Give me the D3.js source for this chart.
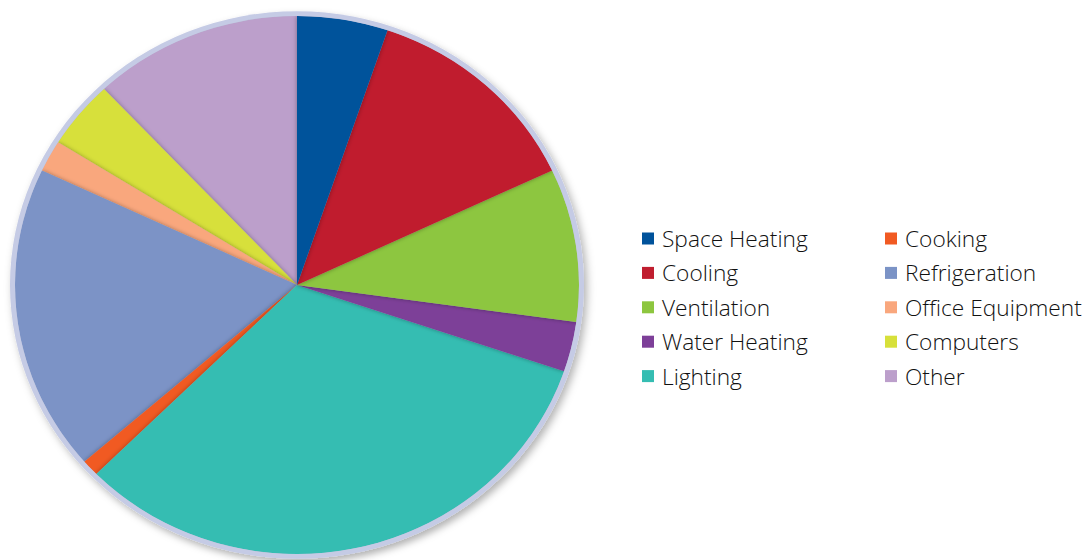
<!DOCTYPE html>
<html lang="en">
<head>
    <meta charset="UTF-8">
    <title>Energy Use by End Use</title>
    <script src="https://d3js.org/d3.v7.min.js"></script>
    <style>
        body {
            margin: 0;
            background: #fff;
        }
        .legend text {
            font-family: "Open Sans", "Noto Sans", sans-serif;
            font-weight: 350;
            font-size: 22.7px;
            fill: #111;
        }
    </style>
</head>
<body>
    <svg id="chart" width="1092" height="560"></svg>
    <script>
        // Data (percent of total)
        const categories = ["Space Heating", "Cooling", "Ventilation", "Water Heating", "Lighting",
                            "Cooking", "Refrigeration", "Office Equipment", "Computers", "Other"];
        const values = [5.2, 12.8, 9.2, 3.0, 32.4, 1.0, 18.4, 1.9, 4.1, 12.0];
        const colors = ["#00529b", "#c01e2f", "#8dc63f", "#7d3f98", "#35bdb2",
                        "#f15a22", "#7b93c6", "#f9a77d", "#d7e03a", "#bc9fcb"];

        const data = categories.map((c, i) => ({ name: c, value: values[i] }));

        const cx = 297, cy = 285;
        const radius = 282;
        const squash = 0.954;   // pie is drawn slightly flattened

        const svg = d3.select("#chart");
        const defs = svg.append("defs");

        // Outer shadow under the rim
        const outer = defs.append("filter").attr("id", "outerShadow")
            .attr("x", "-10%").attr("y", "-10%").attr("width", "120%").attr("height", "120%");
        outer.append("feDropShadow")
            .attr("dx", 3).attr("dy", 4).attr("stdDeviation", 4)
            .attr("flood-color", "#000").attr("flood-opacity", 0.3);

        // Soft shadow each slice throws on its neighbour
        const inner = defs.append("filter").attr("id", "sliceShadow")
            .attr("x", "-20%").attr("y", "-20%").attr("width", "140%").attr("height", "140%");
        inner.append("feDropShadow")
            .attr("dx", 0).attr("dy", 0).attr("stdDeviation", 2.5)
            .attr("flood-color", "#000").attr("flood-opacity", 0.35);

        defs.append("clipPath").attr("id", "pieClip")
            .append("circle").attr("r", radius);

        const color = d3.scaleOrdinal().domain(categories).range(colors);

        const g = svg.append("g")
            .attr("transform", `translate(${cx},${cy}) scale(1,${squash})`);

        // Lavender rim
        g.append("circle")
            .attr("r", radius + 5)
            .attr("fill", "#c5cbe5")
            .attr("filter", "url(#outerShadow)");

        const pie = d3.pie().sort(null).value(d => d.value);
        const arc = d3.arc().innerRadius(0).outerRadius(radius);
        const arcs = pie(data);

        // draw in reverse so each slice shades the next one clockwise
        g.append("g")
            .attr("clip-path", "url(#pieClip)")
            .selectAll("path")
            .data(arcs.slice().reverse())
            .join("path")
            .attr("d", arc)
            .attr("fill", d => color(d.data.name))
            .attr("filter", "url(#sliceShadow)");

        // Legend, two columns of five
        const legend = svg.append("g").attr("class", "legend");
        const colX = [642, 885];
        const rowY = 238.5, rowStep = 34.4;

        const items = legend.selectAll("g")
            .data(categories)
            .join("g")
            .attr("transform", (d, i) => {
                const col = Math.floor(i / 5), row = i % 5;
                return `translate(${colX[col]},${rowY + row * rowStep})`;
            });

        items.append("rect")
            .attr("x", 0).attr("y", -6)
            .attr("width", 12).attr("height", 12)
            .attr("fill", d => color(d));

        items.append("text")
            .attr("x", 20)
            .attr("y", 8.5)
            .text(d => d);
    </script>
</body>
</html>
